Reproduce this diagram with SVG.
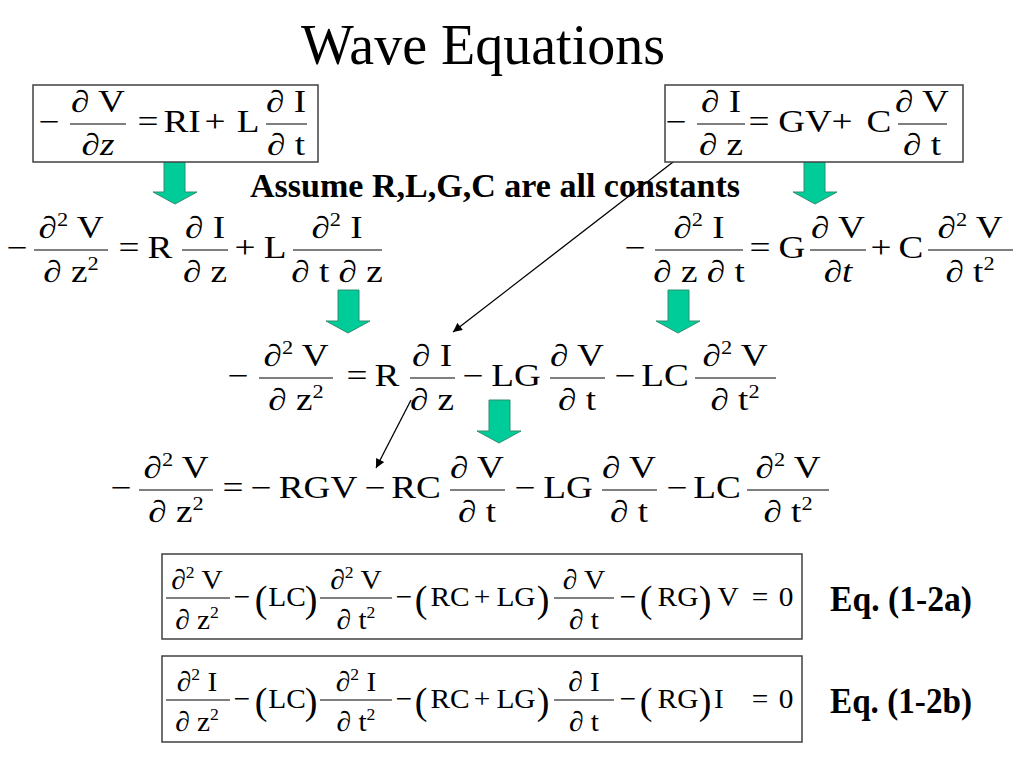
<svg xmlns="http://www.w3.org/2000/svg" width="1024" height="768" viewBox="0 0 1024 768">
<defs>
<style>
text{font-family:"Liberation Serif","Times New Roman",serif;fill:#000}
.m{font-size:31px;text-anchor:middle}
.b{font-size:28px;text-anchor:middle}
.p{font-size:38px;text-anchor:middle}
.s{font-size:60%}
.bold{font-weight:bold}
.box{fill:#fff;stroke:#404040;stroke-width:1.5}
.bar{stroke:#000;stroke-width:1.2}
.ga{fill:#00CC99;stroke:#2F8F6F;stroke-width:1}
.ln{stroke:#000;stroke-width:1.3;fill:none;marker-end:url(#ah)}
</style>
<marker id="ah" viewBox="0 0 10 10" refX="10" refY="5" markerWidth="11" markerHeight="9" markerUnits="userSpaceOnUse" orient="auto">
<path d="M0,0 L10,5 L0,10 z" fill="#000"/>
</marker>
</defs>
<rect width="1024" height="768" fill="#fff"/>

<g id="title">
<text x="483" y="64" style="font-size:56px" text-anchor="middle">Wave Equations</text>
</g>

<g id="connectors">
<polygon class="ga" points="164,161 185,161 185,192 197,192 175,204 153,192 164,192"/>
<polygon class="ga" points="804,161 825,161 825,192 837,192 815,204 793,192 804,192"/>
<polygon class="ga" points="338,290 359,290 359,321 370,321 348,333 326,321 338,321"/>
<polygon class="ga" points="668,290 689,290 689,321 700,321 678,333 656,321 668,321"/>
<polygon class="ga" points="489,400 510,400 510,431 521,431 499,443 477,431 489,431"/>
<line class="ln" x1="686" y1="152" x2="453" y2="332"/>
<line class="ln" x1="411" y1="400" x2="376" y2="468"/>
</g>

<g id="eq-v1">
<rect class="box" x="33" y="85" width="285" height="77"/>
<text class="m" transform="translate(49,132) scale(1.2,1)">−</text>
<text class="m" transform="translate(98,112) scale(1.2,1)">∂ V</text>
<line class="bar" x1="70" y1="124" x2="126" y2="124"/>
<text class="m" transform="translate(98,155) scale(1.2,1)">∂<tspan font-style="italic">z</tspan></text>
<text class="m" transform="translate(148,132) scale(1.2,1)">=</text>
<text class="m" transform="translate(182,132) scale(1.2,1)">RI</text>
<text class="m" transform="translate(215,132) scale(1.2,1)">+</text>
<text class="m" transform="translate(248,132) scale(1.2,1)">L</text>
<text class="m" transform="translate(286,112) scale(1.2,1)">∂ I</text>
<line class="bar" x1="266" y1="124" x2="307" y2="124"/>
<text class="m" transform="translate(286,155) scale(1.2,1)">∂ t</text>
</g>

<g id="eq-i1">
<rect class="box" x="665" y="85" width="298" height="77"/>
<text class="m" transform="translate(676,132) scale(1.2,1)">−</text>
<text class="m" transform="translate(721,112) scale(1.2,1)">∂ I</text>
<line class="bar" x1="697" y1="124" x2="745" y2="124"/>
<text class="m" transform="translate(721,155) scale(1.2,1)">∂ z</text>
<text class="m" transform="translate(759,132) scale(1.2,1)">=</text>
<text class="m" transform="translate(805,132) scale(1.2,1)">GV</text>
<text class="m" transform="translate(842,132) scale(1.2,1)">+</text>
<text class="m" transform="translate(879,132) scale(1.2,1)">C</text>
<text class="m" transform="translate(922,112) scale(1.2,1)">∂ V</text>
<line class="bar" x1="898" y1="124" x2="947" y2="124"/>
<text class="m" transform="translate(922,155) scale(1.2,1)">∂ t</text>
</g>

<g id="note">
<text class="bold" x="250" y="197" style="font-size:33px" textLength="490" lengthAdjust="spacingAndGlyphs">Assume R,L,G,C are all constants</text>
</g>

<g id="eq-v2">
<text class="m" transform="translate(17,258) scale(1.2,1)">−</text>
<text class="m" transform="translate(71,238) scale(1.2,1)">∂<tspan class="s" dy="-12">2</tspan><tspan dy="12"> V</tspan></text>
<line class="bar" x1="34" y1="250" x2="108" y2="250"/>
<text class="m" transform="translate(71,282) scale(1.2,1)">∂ z<tspan class="s" dy="-12">2</tspan></text>
<text class="m" transform="translate(129,258) scale(1.2,1)">=</text>
<text class="m" transform="translate(160,258) scale(1.2,1)">R</text>
<text class="m" transform="translate(205,238) scale(1.2,1)">∂ I</text>
<line class="bar" x1="182" y1="250" x2="228" y2="250"/>
<text class="m" transform="translate(205,282) scale(1.2,1)">∂ z</text>
<text class="m" transform="translate(245,258) scale(1.2,1)">+</text>
<text class="m" transform="translate(275,258) scale(1.2,1)">L</text>
<text class="m" transform="translate(337,238) scale(1.2,1)">∂<tspan class="s" dy="-12">2</tspan><tspan dy="12"> I</tspan></text>
<line class="bar" x1="293" y1="250" x2="382" y2="250"/>
<text class="m" transform="translate(337,282) scale(1.2,1)">∂ t ∂ z</text>
</g>

<g id="eq-i2">
<text class="m" transform="translate(635,258) scale(1.2,1)">−</text>
<text class="m" transform="translate(699,238) scale(1.2,1)">∂<tspan class="s" dy="-12">2</tspan><tspan dy="12"> I</tspan></text>
<line class="bar" x1="655" y1="250" x2="743" y2="250"/>
<text class="m" transform="translate(699,282) scale(1.2,1)">∂ z ∂ t</text>
<text class="m" transform="translate(760,258) scale(1.2,1)">=</text>
<text class="m" transform="translate(792,258) scale(1.2,1)">G</text>
<text class="m" transform="translate(838,238) scale(1.2,1)">∂ V</text>
<line class="bar" x1="810" y1="250" x2="866" y2="250"/>
<text class="m" transform="translate(838,282) scale(1.2,1)">∂<tspan font-style="italic">t</tspan></text>
<text class="m" transform="translate(881,258) scale(1.2,1)">+</text>
<text class="m" transform="translate(911,258) scale(1.2,1)">C</text>
<text class="m" transform="translate(970,238) scale(1.2,1)">∂<tspan class="s" dy="-12">2</tspan><tspan dy="12"> V</tspan></text>
<line class="bar" x1="928" y1="250" x2="1013" y2="250"/>
<text class="m" transform="translate(970,282) scale(1.2,1)">∂ t<tspan class="s" dy="-12">2</tspan></text>
</g>

<g id="eq-v3">
<text class="m" transform="translate(238,386) scale(1.2,1)">−</text>
<text class="m" transform="translate(296,366) scale(1.2,1)">∂<tspan class="s" dy="-12">2</tspan><tspan dy="12"> V</tspan></text>
<line class="bar" x1="259" y1="378" x2="333" y2="378"/>
<text class="m" transform="translate(296,410) scale(1.2,1)">∂ z<tspan class="s" dy="-12">2</tspan></text>
<text class="m" transform="translate(357,386) scale(1.2,1)">=</text>
<text class="m" transform="translate(387,386) scale(1.2,1)">R</text>
<text class="m" transform="translate(432,366) scale(1.2,1)">∂ I</text>
<line class="bar" x1="410" y1="378" x2="455" y2="378"/>
<text class="m" transform="translate(432,410) scale(1.2,1)">∂ z</text>
<text class="m" transform="translate(473,386) scale(1.2,1)">−</text>
<text class="m" transform="translate(516,386) scale(1.2,1)">LG</text>
<text class="m" transform="translate(577,366) scale(1.2,1)">∂ V</text>
<line class="bar" x1="550" y1="378" x2="605" y2="378"/>
<text class="m" transform="translate(577,410) scale(1.2,1)">∂ t</text>
<text class="m" transform="translate(625,386) scale(1.2,1)">−</text>
<text class="m" transform="translate(665,386) scale(1.2,1)">LC</text>
<text class="m" transform="translate(735,366) scale(1.2,1)">∂<tspan class="s" dy="-12">2</tspan><tspan dy="12"> V</tspan></text>
<line class="bar" x1="695" y1="378" x2="776" y2="378"/>
<text class="m" transform="translate(735,410) scale(1.2,1)">∂ t<tspan class="s" dy="-12">2</tspan></text>
</g>

<g id="eq-v4">
<text class="m" transform="translate(121,498) scale(1.2,1)">−</text>
<text class="m" transform="translate(176,478) scale(1.2,1)">∂<tspan class="s" dy="-12">2</tspan><tspan dy="12"> V</tspan></text>
<line class="bar" x1="139" y1="490" x2="213" y2="490"/>
<text class="m" transform="translate(176,522) scale(1.2,1)">∂ z<tspan class="s" dy="-12">2</tspan></text>
<text class="m" transform="translate(233,498) scale(1.2,1)">=</text>
<text class="m" transform="translate(261,498) scale(1.2,1)">−</text>
<text class="m" transform="translate(318,498) scale(1.2,1)">RGV</text>
<text class="m" transform="translate(375,498) scale(1.2,1)">−</text>
<text class="m" transform="translate(416,498) scale(1.2,1)">RC</text>
<text class="m" transform="translate(477,478) scale(1.2,1)">∂ V</text>
<line class="bar" x1="450" y1="490" x2="505" y2="490"/>
<text class="m" transform="translate(477,522) scale(1.2,1)">∂ t</text>
<text class="m" transform="translate(525,498) scale(1.2,1)">−</text>
<text class="m" transform="translate(568,498) scale(1.2,1)">LG</text>
<text class="m" transform="translate(629,478) scale(1.2,1)">∂ V</text>
<line class="bar" x1="602" y1="490" x2="657" y2="490"/>
<text class="m" transform="translate(629,522) scale(1.2,1)">∂ t</text>
<text class="m" transform="translate(677,498) scale(1.2,1)">−</text>
<text class="m" transform="translate(717,498) scale(1.2,1)">LC</text>
<text class="m" transform="translate(788,478) scale(1.2,1)">∂<tspan class="s" dy="-12">2</tspan><tspan dy="12"> V</tspan></text>
<line class="bar" x1="747" y1="490" x2="829" y2="490"/>
<text class="m" transform="translate(788,522) scale(1.2,1)">∂ t<tspan class="s" dy="-12">2</tspan></text>
</g>

<g id="eq-1-2a">
<rect class="box" x="162" y="554" width="640" height="85"/>
<text class="b" transform="translate(197,589) scale(1.05,1)">∂<tspan class="s" dy="-11">2</tspan><tspan dy="11"> V</tspan></text>
<line class="bar" x1="166" y1="598" x2="230" y2="598"/>
<text class="b" transform="translate(197,629) scale(1.05,1)">∂ z<tspan class="s" dy="-11">2</tspan></text>
<text class="b" transform="translate(242,606) scale(1.05,1)">−</text>
<text class="p" x="261" y="612">(</text>
<text class="b" transform="translate(287,606) scale(1.05,1)">LC</text>
<text class="p" x="311" y="612">)</text>
<text class="b" transform="translate(356,589) scale(1.05,1)">∂<tspan class="s" dy="-11">2</tspan><tspan dy="11"> V</tspan></text>
<line class="bar" x1="320" y1="598" x2="392" y2="598"/>
<text class="b" transform="translate(356,629) scale(1.05,1)">∂ t<tspan class="s" dy="-11">2</tspan></text>
<text class="b" transform="translate(404,606) scale(1.05,1)">−</text>
<text class="p" x="421" y="612">(</text>
<text class="b" transform="translate(450,606) scale(1.05,1)">RC</text>
<text class="b" transform="translate(482,606) scale(1.05,1)">+</text>
<text class="b" transform="translate(516,606) scale(1.05,1)">LG</text>
<text class="p" x="543" y="612">)</text>
<text class="b" transform="translate(584,589) scale(1.05,1)">∂ V</text>
<line class="bar" x1="554" y1="598" x2="614" y2="598"/>
<text class="b" transform="translate(584,629) scale(1.05,1)">∂ t</text>
<text class="b" transform="translate(628,606) scale(1.05,1)">−</text>
<text class="p" x="646" y="612">(</text>
<text class="b" transform="translate(678,606) scale(1.05,1)">RG</text>
<text class="p" x="705" y="612">)</text>
<text class="b" transform="translate(728,606) scale(1.05,1)">V</text>
<text class="b" transform="translate(760,606) scale(1.05,1)">=</text>
<text class="b" transform="translate(786,606) scale(1.05,1)">0</text>
</g>
<g id="label-1-2a">
<text class="bold" x="830" y="611" style="font-size:36px" textLength="142" lengthAdjust="spacingAndGlyphs">Eq. (1-2a)</text>
</g>

<g id="eq-1-2b">
<rect class="box" x="162" y="656" width="640" height="86"/>
<text class="b" transform="translate(197,691) scale(1.05,1)">∂<tspan class="s" dy="-11">2</tspan><tspan dy="11"> I</tspan></text>
<line class="bar" x1="166" y1="700" x2="230" y2="700"/>
<text class="b" transform="translate(197,731) scale(1.05,1)">∂ z<tspan class="s" dy="-11">2</tspan></text>
<text class="b" transform="translate(242,708) scale(1.05,1)">−</text>
<text class="p" x="261" y="714">(</text>
<text class="b" transform="translate(287,708) scale(1.05,1)">LC</text>
<text class="p" x="311" y="714">)</text>
<text class="b" transform="translate(356,691) scale(1.05,1)">∂<tspan class="s" dy="-11">2</tspan><tspan dy="11"> I</tspan></text>
<line class="bar" x1="320" y1="700" x2="392" y2="700"/>
<text class="b" transform="translate(356,731) scale(1.05,1)">∂ t<tspan class="s" dy="-11">2</tspan></text>
<text class="b" transform="translate(404,708) scale(1.05,1)">−</text>
<text class="p" x="421" y="714">(</text>
<text class="b" transform="translate(450,708) scale(1.05,1)">RC</text>
<text class="b" transform="translate(482,708) scale(1.05,1)">+</text>
<text class="b" transform="translate(516,708) scale(1.05,1)">LG</text>
<text class="p" x="543" y="714">)</text>
<text class="b" transform="translate(584,691) scale(1.05,1)">∂ I</text>
<line class="bar" x1="554" y1="700" x2="614" y2="700"/>
<text class="b" transform="translate(584,731) scale(1.05,1)">∂ t</text>
<text class="b" transform="translate(628,708) scale(1.05,1)">−</text>
<text class="p" x="646" y="714">(</text>
<text class="b" transform="translate(678,708) scale(1.05,1)">RG</text>
<text class="p" x="705" y="714">)</text>
<text class="b" transform="translate(719,708) scale(1.05,1)">I</text>
<text class="b" transform="translate(760,708) scale(1.05,1)">=</text>
<text class="b" transform="translate(786,708) scale(1.05,1)">0</text>
</g>
<g id="label-1-2b">
<text class="bold" x="830" y="713" style="font-size:36px" textLength="142" lengthAdjust="spacingAndGlyphs">Eq. (1-2b)</text>
</g>
</svg>
